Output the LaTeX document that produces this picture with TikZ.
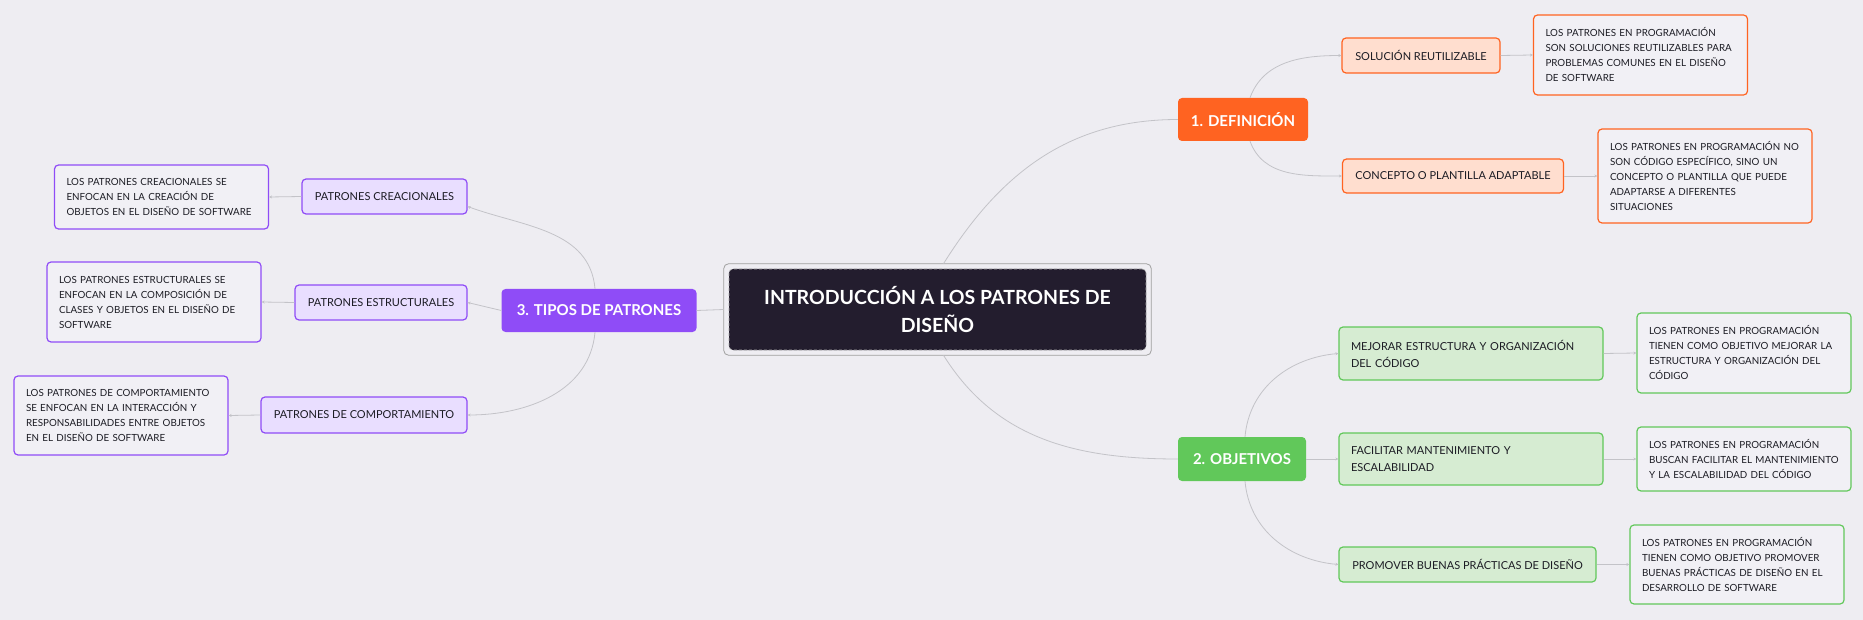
\documentclass[tikz,border=0pt]{standalone}
\usepackage{fontspec}
\setmainfont{Lato}
\usepackage{tikz}
\usetikzlibrary{arrows.meta}
\definecolor{bgColor}{rgb}{0.933,0.929,0.949}
\definecolor{rootColor}{rgb}{0.137,0.114,0.180}
\definecolor{defColor}{rgb}{1,0.388,0.129}
\definecolor{defLight}{rgb}{1,0.871,0.812}
\definecolor{objColor}{rgb}{0.380,0.784,0.353}
\definecolor{objLight}{rgb}{0.839,0.925,0.824}
\definecolor{tipColor}{rgb}{0.561,0.298,0.969}
\definecolor{tipLight}{rgb}{0.914,0.871,1}
\definecolor{edgeColor}{rgb}{0.765,0.765,0.784}
\definecolor{textColor}{rgb}{0.11,0.11,0.141}
\definecolor{noteColor}{rgb}{0.945,0.941,0.961}

\begin{document}
\begin{tikzpicture}[x=1pt,y=1pt]

          \tikzstyle{rootNode} = [fill=rootColor, draw=gray!70, densely dashed, line width=0.6pt, rounded corners=4pt, text=white, align=center, minimum width=417pt, minimum height=81pt, inner sep=0pt, font=\fontsize{19.5}{28}\selectfont\bfseries];
          \tikzstyle{topicNode} = [rounded corners=4pt, text=white, inner sep=0pt, minimum height=43pt, font=\fontsize{15}{17}\selectfont\bfseries];
          \tikzstyle{subNode} = [rounded corners=4pt, line width=1.2pt, align=left, inner xsep=0pt, inner ysep=0pt, text=textColor, font=\fontsize{11}{17}\selectfont];
          \tikzstyle{noteNode} = [rounded corners=4pt, line width=1.2pt, fill=noteColor, align=left, inner xsep=12pt, inner ysep=0pt, text width=190pt, text=textColor, font=\fontsize{9.8}{15}\selectfont];

          \tikzstyle{normalEdge} = [edgeColor, line width=0.8pt];
          \tikzstyle{branchEdge} = [edgeColor, line width=0.8pt, -{Stealth[length=3pt,width=3pt]}];

          \useasboundingbox (0,0) rectangle (1863,-620);
          \fill[bgColor] (0,0) rectangle (1863,-620);

          % centre
          \node[rootNode] (main) at (937.5,-309.5) {INTRODUCCIÓN A LOS PATRONES DE\\DISEÑO};
          \draw[gray!75, line width=0.8pt, rounded corners=5pt] ([xshift=-5pt,yshift=5pt]main.north west) rectangle ([xshift=5pt,yshift=-5pt]main.south east);

          % 1. definicion
          \node[topicNode, fill=defColor, minimum width=130pt] (def) at (1243,-119.5) {1. DEFINICIÓN};
          \node[subNode, draw=defColor, fill=defLight, minimum width=158pt, minimum height=35pt] (sol) at (1421,-55.5) {SOLUCIÓN REUTILIZABLE};
          \node[subNode, draw=defColor, fill=defLight, minimum width=221pt, minimum height=34pt] (con) at (1453,-176) {CONCEPTO O PLANTILLA ADAPTABLE};
          \node[noteNode, draw=defColor, minimum height=80pt] (solD) at (1640.5,-55) {LOS PATRONES EN PROGRAMACIÓN\\SON SOLUCIONES REUTILIZABLES PARA\\PROBLEMAS COMUNES EN EL DISEÑO\\DE SOFTWARE};
          \node[noteNode, draw=defColor, minimum height=94pt] (conD) at (1705,-176) {LOS PATRONES EN PROGRAMACIÓN NO\\SON CÓDIGO ESPECÍFICO, SINO UN\\CONCEPTO O PLANTILLA QUE PUEDE\\ADAPTARSE A DIFERENTES\\SITUACIONES};

          % 2. objetivos
          \node[topicNode, fill=objColor, minimum width=128pt, minimum height=44pt] (obj) at (1242,-459) {2. OBJETIVOS};
          \node[subNode, draw=objColor, fill=objLight, inner xsep=12pt, text width=240pt, minimum height=53pt] (mej) at (1471,-353.5) {MEJORAR ESTRUCTURA Y ORGANIZACIÓN\\DEL CÓDIGO};
          \node[subNode, draw=objColor, fill=objLight, inner xsep=12pt, text width=240pt, minimum height=52pt] (fac) at (1471,-459) {FACILITAR MANTENIMIENTO Y\\ESCALABILIDAD};
          \node[subNode, draw=objColor, fill=objLight, minimum width=257pt, minimum height=35pt] (pro) at (1467.5,-564.5) {PROMOVER BUENAS PRÁCTICAS DE DISEÑO};
          \node[noteNode, draw=objColor, minimum height=80pt] (mejD) at (1744,-353) {LOS PATRONES EN PROGRAMACIÓN\\TIENEN COMO OBJETIVO MEJORAR LA\\ESTRUCTURA Y ORGANIZACIÓN DEL\\CÓDIGO};
          \node[noteNode, draw=objColor, minimum height=64pt] (facD) at (1744,-459) {LOS PATRONES EN PROGRAMACIÓN\\BUSCAN FACILITAR EL MANTENIMIENTO\\Y LA ESCALABILIDAD DEL CÓDIGO};
          \node[noteNode, draw=objColor, minimum height=79pt] (proD) at (1737,-564.5) {LOS PATRONES EN PROGRAMACIÓN\\TIENEN COMO OBJETIVO PROMOVER\\BUENAS PRÁCTICAS DE DISEÑO EN EL\\DESARROLLO DE SOFTWARE};

          % 3. tipos
          \node[topicNode, fill=tipColor, minimum width=195pt] (tip) at (599,-310.5) {3. TIPOS DE PATRONES};
          \node[subNode, draw=tipColor, fill=tipLight, minimum width=165pt, minimum height=35pt] (cre) at (384.5,-196.5) {PATRONES CREACIONALES};
          \node[subNode, draw=tipColor, fill=tipLight, minimum width=172pt, minimum height=35pt] (est) at (381,-302.5) {PATRONES ESTRUCTURALES};
          \node[subNode, draw=tipColor, fill=tipLight, minimum width=206pt, minimum height=36pt] (com) at (364,-415) {PATRONES DE COMPORTAMIENTO};
          \node[noteNode, draw=tipColor, minimum height=64pt] (creD) at (161.5,-197) {LOS PATRONES CREACIONALES SE\\ENFOCAN EN LA CREACIÓN DE\\OBJETOS EN EL DISEÑO DE SOFTWARE};
          \node[noteNode, draw=tipColor, minimum height=80pt] (estD) at (154,-302) {LOS PATRONES ESTRUCTURALES SE\\ENFOCAN EN LA COMPOSICIÓN DE\\CLASES Y OBJETOS EN EL DISEÑO DE\\SOFTWARE};
          \node[noteNode, draw=tipColor, minimum height=79pt] (comD) at (121,-415.5) {LOS PATRONES DE COMPORTAMIENTO\\SE ENFOCAN EN LA INTERACCIÓN Y\\RESPONSABILIDADES ENTRE OBJETOS\\EN EL DISEÑO DE SOFTWARE};

          \draw[normalEdge] ([xshift=6pt,yshift=5pt]main.north) to[out=58,in=180] (def.west);
          \draw[normalEdge] ([xshift=6pt,yshift=-5pt]main.south) to[out=-58,in=180] (obj.west);
          \draw[normalEdge] ([xshift=-5pt]main.west) -- (tip.east);

          \draw[branchEdge] ([xshift=7pt]def.north) to[out=70,in=180] (sol.west);
          \draw[branchEdge] ([xshift=7pt]def.south) to[out=-70,in=180] (con.west);
          \draw[branchEdge] ([xshift=3pt]obj.north) to[out=85,in=185] (mej.west);
          \draw[branchEdge] (obj.east) -- (fac.west);
          \draw[branchEdge] ([xshift=3pt]obj.south) to[out=-85,in=175] (pro.west);
          \draw[branchEdge] ([xshift=-4pt]tip.north) to[out=95,in=-20] ([yshift=-10pt]cre.east);
          \draw[branchEdge] (tip.west) -- (est.east);
          \draw[branchEdge] ([xshift=-4pt]tip.south) to[out=-95,in=0] (com.east);

          \draw[branchEdge] (sol.east) -- (solD.west);
          \draw[branchEdge] (con.east) -- (conD.west);
          \draw[branchEdge] (mej.east) -- (mejD.west);
          \draw[branchEdge] (fac.east) -- (facD.west);
          \draw[branchEdge] (pro.east) -- (proD.west);
          \draw[branchEdge] (cre.west) -- (creD.east);
          \draw[branchEdge] (est.west) -- (estD.east);
          \draw[branchEdge] (com.west) -- (comD.east);
        \end{tikzpicture}
\end{document}
